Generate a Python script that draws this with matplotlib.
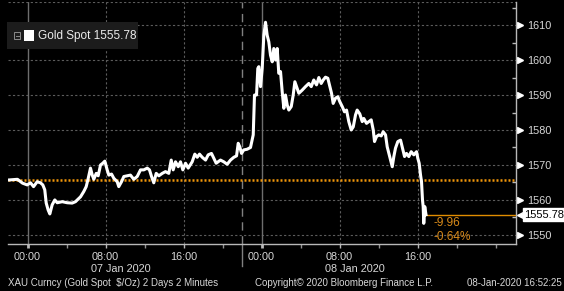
import matplotlib
matplotlib.use("Agg")
import matplotlib.pyplot as plt
from matplotlib.patches import Rectangle
from matplotlib.transforms import ScaledTranslation
import matplotlib.lines as mlines

plt.rcParams['font.family'] = ['Liberation Sans', 'DejaVu Sans']

# hours since 07 Jan 2020 00:00
hours = [-1.95, -1.03, -0.51, -0.03, 0.31, 0.62, 0.99, 1.33, 1.57, 1.77, 1.92, 2.12, 2.29, 2.53,
         2.80, 3.05, 3.56, 4.07, 4.58, 4.92, 5.44, 5.77, 6.02, 6.23, 6.46, 6.64, 6.80, 7.05, 7.25,
         7.49, 7.72, 7.93, 8.17, 8.34, 8.62, 8.85, 9.20, 9.36, 9.64, 9.88, 10.23, 10.56, 10.90,
         11.25, 11.59, 11.93, 12.28, 12.51, 12.72, 12.95, 13.20, 13.47, 13.82, 14.15, 14.49, 14.74,
         14.94, 15.18, 15.46, 15.69, 15.93, 16.21, 16.48, 16.89, 17.16, 17.41, 17.64, 17.92, 18.26,
         18.53, 18.87, 19.11, 19.35, 19.79, 20.13, 20.48, 20.82, 21.16, 21.44, 21.61, 21.77, 21.95,
         22.18, 22.53, 22.87, 23.15, 23.28, 23.49, 23.62, 23.72, 23.90, 24.07, 24.24, 24.41, 24.58,
         24.75, 24.92, 25.10, 25.26, 25.44, 25.61, 25.77, 25.95, 26.12, 26.29, 26.46, 26.64, 26.80,
         27.05, 27.25, 27.42, 27.59, 27.83, 28.17, 28.51, 28.85, 29.10, 29.36, 29.64, 29.88, 30.12,
         30.33, 30.56, 30.80, 31.01, 31.18, 31.35, 31.59, 31.83, 32.03, 32.28, 32.51, 32.72, 32.95,
         33.20, 33.41, 33.64, 33.81, 34.08, 34.33, 34.49, 34.77, 35.01, 35.25, 35.46, 35.59, 35.79,
         36.03, 36.28, 36.48, 36.72, 36.89, 37.06, 37.23, 37.41, 37.57, 37.74, 37.98, 38.26, 38.43,
         38.67, 38.87, 39.11, 39.35, 39.62, 39.90, 40.03, 40.17, 40.31, 40.41, 40.51, 40.58, 40.64,
         40.74, 40.87]
prices = [1565.7, 1565.9, 1564.8, 1564.3, 1564.9, 1563.8, 1565.2, 1564.9, 1564.3, 1562.9, 1559.1,
          1557.1, 1556.0, 1558.6, 1560.0, 1559.2, 1559.5, 1559.2, 1559.1, 1559.5, 1560.9, 1562.4,
          1563.8, 1566.2, 1569.1, 1567.1, 1565.9, 1567.6, 1566.9, 1570.0, 1570.5, 1571.1, 1568.6,
          1567.1, 1567.4, 1566.2, 1565.2, 1563.8, 1565.2, 1566.7, 1566.9, 1567.1, 1565.9, 1566.7,
          1568.6, 1568.6, 1569.1, 1568.6, 1566.7, 1564.9, 1567.6, 1566.9, 1567.6, 1568.1, 1567.6,
          1571.4, 1568.6, 1570.9, 1569.5, 1570.9, 1568.6, 1570.5, 1569.1, 1570.9, 1573.1, 1572.2,
          1573.1, 1572.2, 1571.4, 1572.9, 1573.3, 1571.9, 1570.5, 1571.4, 1570.9, 1570.2, 1571.4,
          1572.2, 1572.6, 1576.2, 1575.2, 1573.3, 1574.3, 1574.5, 1575.0, 1578.6, 1590.0, 1590.0,
          1597.6, 1598.1, 1592.4, 1597.6, 1607.1, 1610.8, 1607.1, 1605.2, 1601.4, 1599.5, 1603.3,
          1600.0, 1603.3, 1596.2, 1596.7, 1591.0, 1586.2, 1590.0, 1587.1, 1585.7, 1586.7, 1590.0,
          1593.8, 1592.4, 1590.5, 1591.4, 1592.4, 1593.3, 1592.4, 1594.3, 1592.9, 1595.0, 1593.3,
          1594.3, 1595.1, 1594.8, 1592.4, 1590.5, 1587.6, 1589.1, 1589.5, 1588.1, 1586.7, 1585.2,
          1585.7, 1582.4, 1580.0, 1580.9, 1584.3, 1585.7, 1584.6, 1582.4, 1583.3, 1581.9, 1582.4,
          1582.9, 1580.0, 1576.7, 1578.1, 1578.6, 1578.3, 1579.5, 1578.6, 1575.2, 1573.3, 1571.4,
          1569.5, 1572.4, 1574.8, 1576.7, 1577.1, 1575.2, 1572.4, 1573.3, 1572.4, 1573.8, 1572.9,
          1573.8, 1571.9, 1570.5, 1567.1, 1565.2, 1560.0, 1558.1, 1553.3, 1558.1, 1555.78]

prev_close = 1565.74
last_price = 1555.78
net_change = "-9.96"
pct_change = "-0.64%"
y_ticks = [1550, 1560, 1570, 1580, 1590, 1600, 1610]
x_tick_hours = [0, 8, 16, 24, 32, 40]
x_tick_labels = ["00:00", "08:00", "16:00", "00:00", "08:00", "16:00"]
day_labels = ["07 Jan 2020", "08 Jan 2020"]
day_label_hours = [8, 32]
session_break = 22
legend_text = "Gold Spot 1555.78"
footer_left = "XAU Curncy (Gold Spot  $/Oz) 2 Days 2 Minutes"
footer_mid = "Copyright\u00a9 2020 Bloomberg Finance L.P."
footer_right = "08-Jan-2020 16:52:25"

W, H = 564, 291
fig = plt.figure(figsize=(W / 100, H / 100), dpi=100, facecolor='black')
ax = fig.add_axes([8 / W, 47 / H, (516 - 8) / W, (289 - 47) / H])
ax.set_facecolor('black')
ax.set_xlim(-2.0, 50.1)
ax.set_ylim(1547.4, 1616.6)

GRID = '#5c5c5c'
TXT = '#d8d8d8'
ORANGE = '#f0960a'

# horizontal grid
for yv in y_ticks:
    ax.axhline(yv, color=GRID, lw=0.8, linestyle=(0, (2, 2)), zorder=1)
# vertical grid
for h in x_tick_hours:
    if h % 24 == 0:
        ax.axvline(h, color='#6e6e6e', lw=1.0, zorder=1)
    else:
        ax.axvline(h, color=GRID, lw=0.8, linestyle=(0, (2, 2)), zorder=1)
# session break dashed, extending below axis
ax.axvline(session_break, color='#808080', lw=1.0, linestyle=(0, (6, 4)), zorder=1)
ax.plot([session_break, session_break], [0, -0.09], transform=ax.get_xaxis_transform(),
        color='#808080', lw=1.0, clip_on=False)

# previous close
ax.axhline(prev_close, color=ORANGE, lw=1.8, linestyle=(0, (0.8, 0.8)), zorder=2)

# price series
ax.plot(hours, prices, color='white', lw=2.2, solid_joinstyle='round', zorder=4)

# last price line
ax.hlines(last_price, hours[-1], 50.1, color='#e08c00', lw=1.0, zorder=3)
ax.annotate(net_change, xy=(hours[-1], last_price), xytext=(5.5, -6), textcoords='offset points',
            color='#d88a1a', fontsize=8.5, ha='left', va='center')
ax.annotate(pct_change, xy=(hours[-1], last_price), xytext=(5.5, -16), textcoords='offset points',
            color='#d88a1a', fontsize=8.5, ha='left', va='center')

# spines
for s in ['top', 'left']:
    ax.spines[s].set_visible(False)
for s in ['right', 'bottom']:
    ax.spines[s].set_color('#b8b8b8')
    ax.spines[s].set_linewidth(1.0)
ax.axhline(1616.6, color=GRID, lw=0.8, linestyle=(0, (2, 2)), zorder=1)

# y axis on right
ax.yaxis.tick_right()
ax.set_yticks(y_ticks)
ax.set_yticklabels([str(v) for v in y_ticks])
ax.set_yticks([v + 5 for v in y_ticks[:-1]] + [1615], minor=True)
ax.tick_params(axis='y', which='major', length=0, pad=8, labelsize=7.8, labelcolor=TXT)
ax.tick_params(axis='y', which='minor', direction='in', length=3, color='#b8b8b8', width=1)
tri_tr = ax.get_yaxis_transform() + ScaledTranslation(3.5 / 100, 0, fig.dpi_scale_trans)
ax.plot([1.0] * len(y_ticks), y_ticks, linestyle='none', marker='>', markersize=4.2,
        color='white', transform=tri_tr, clip_on=False)

# price box
box_tr = ax.get_yaxis_transform() + ScaledTranslation(8 / 100, 0, fig.dpi_scale_trans)
ax.text(1.0, last_price, "1555.78", transform=box_tr, color='black', fontsize=8,
        ha='left', va='center',
        bbox=dict(boxstyle='square,pad=0.12', fc='white', ec='white'))
ptr_tr = ax.get_yaxis_transform() + ScaledTranslation(4.5 / 100, 0, fig.dpi_scale_trans)
ax.plot([1.0], [last_price], marker='<', markersize=6, color='white', linestyle='none',
        transform=ptr_tr, clip_on=False)

# x axis
ax.set_xticks(x_tick_hours)
ax.set_xticklabels(x_tick_labels)
ax.set_xticks([h for h in range(0, 52, 4) if h not in x_tick_hours], minor=True)
ax.tick_params(axis='x', which='major', length=3, width=1, color='#b8b8b8', pad=3,
               labelsize=7.8, labelcolor=TXT)
ax.tick_params(axis='x', which='minor', length=3, width=1, color='#909090')
for t, h in zip(ax.xaxis.get_major_ticks(), x_tick_hours):
    if h % 24 == 0:
        t.tick1line.set_color('white')
        t.tick1line.set_markeredgewidth(2)

# day labels
day_tr = ax.get_xaxis_transform() + ScaledTranslation(-15 / 100, -25 / 100, fig.dpi_scale_trans)
for h, lab in zip(day_label_hours, day_labels):
    ax.text(h, 0, lab, transform=day_tr, color=TXT, fontsize=7.8, ha='left', va='center')

# legend box
fig.patches.append(Rectangle((7 / W, 1 - 49 / H), 131 / W, 27 / H, transform=fig.transFigure,
                             facecolor='#1c1c1c', edgecolor='none', zorder=5))
fig.patches.append(Rectangle((14 / W, 1 - 38.5 / H), 6 / W, 6 / H, transform=fig.transFigure,
                             facecolor='none', edgecolor='#8a8a8a', lw=0.7, zorder=6))
fig.lines.append(mlines.Line2D([15.5 / W, 18.5 / W], [1 - 35.5 / H, 1 - 35.5 / H],
                               transform=fig.transFigure, color='#8a8a8a', lw=0.7, zorder=6))
fig.patches.append(Rectangle((24 / W, 1 - 41 / H), 10 / W, 11 / H, transform=fig.transFigure,
                             facecolor='white', edgecolor='none', zorder=6))
fig.text(38 / W, 1 - 35.5 / H, legend_text, color='#ececec', fontsize=8.5, ha='left',
         va='center', zorder=7)

# footer
fig.text(8 / W, 1 - 283 / H, footer_left, color=TXT, fontsize=7, ha='left', va='center')
fig.text(255 / W, 1 - 283 / H, footer_mid, color=TXT, fontsize=7, ha='left', va='center')
fig.text(562 / W, 1 - 283 / H, footer_right, color=TXT, fontsize=7, ha='right', va='center')

fig.savefig("out.png", dpi=100, facecolor='black')
